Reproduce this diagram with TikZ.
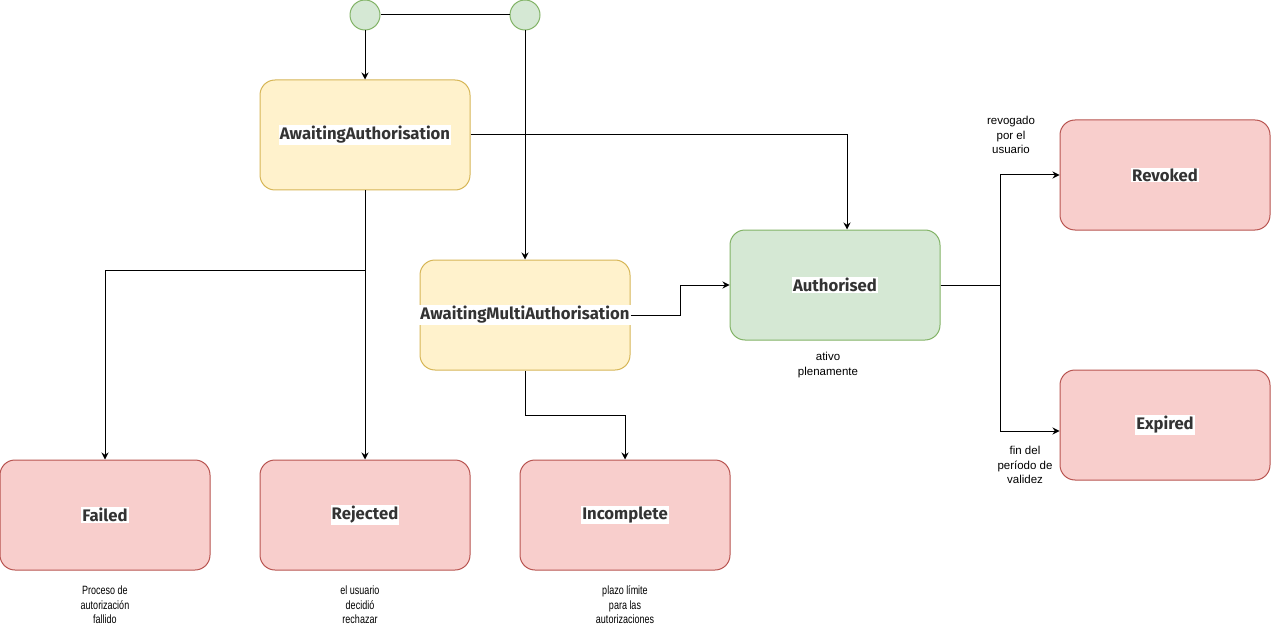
\documentclass[tikz,border=0pt]{standalone}
\usepackage{fontspec}
\setmainfont{Liberation Sans}
\newfontfamily\statefont{Fira Sans}
\newfontfamily\narrowfont[FakeStretch=0.75]{Liberation Sans}
\usetikzlibrary{arrows.meta}
\definecolor{yfill}{HTML}{FFF2CC}
\definecolor{yline}{HTML}{D6B656}
\definecolor{gfill}{HTML}{D5E8D4}
\definecolor{gline}{HTML}{82B366}
\definecolor{rfill}{HTML}{F8CECC}
\definecolor{rline}{HTML}{B85450}
\definecolor{tcol}{HTML}{333333}
\begin{document}
\begin{tikzpicture}[x=1pt, y=-1pt, line width=1pt,
  box/.style = {draw, rounded corners=15pt, minimum width=210pt, minimum height=110pt},
  wait/.style = {box, fill=yfill, draw=yline},
  ok/.style = {box, fill=gfill, draw=gline},
  bad/.style = {box, fill=rfill, draw=rline},
  start/.style = {circle, minimum size=30pt, inner sep=0pt, fill=gfill, draw=gline},
  tag/.style = {fill=white, inner sep=1pt, text=tcol, font=\statefont\bfseries\fontsize{16.7}{19}\selectfont},
  note/.style = {align=center, font=\fontsize{11.5}{14.5}\selectfont},
  low/.style = {align=center, font=\narrowfont\fontsize{12}{14.5}\selectfont},
  arr/.style = {-{Stealth[length=7pt,width=7pt]}}]
  \useasboundingbox (0,0) rectangle (1271,639);
  \node[start] (s1) at (365,15) {};
  \node[start] (s2) at (525,15) {};
  \node[wait] (aa) at (365,135) {};
  \node[wait] (ama) at (525,315) {};
  \node[ok] (aut) at (835,285) {};
  \node[bad] (rev) at (1165,175) {};
  \node[bad] (exp) at (1165,425) {};
  \node[bad] (fail) at (105,515) {};
  \node[bad] (rej) at (365,515) {};
  \node[bad] (inc) at (625,515) {};
  \node[tag] (aa-t) at (aa) {AwaitingAuthorisation};
  \node[tag] (ama-t) at (ama) {AwaitingMultiAuthorisation};
  \node[tag] (aut-t) at (aut) {Authorised};
  \node[tag] (rev-t) at (rev) {Revoked};
  \node[tag] (exp-t) at (exp) {Expired};
  \node[tag] (fail-t) at (fail) {Failed};
  \node[tag] (rej-t) at (rej) {Rejected};
  \node[tag] (inc-t) at (inc) {Incomplete};
  \node[note] (rev-n) at (1011,135) {revogado\\por el\\usuario};
  \node[note] (exp-n) at (1025,465) {fin del\\período de\\validez};
  \node[note] (aut-n) at (828,365) {ativo\\plenamente};
  \node[low] (fail-n) at (105,605) {Proceso de\\autorización\\fallido};
  \node[low] (rej-n) at (360,605) {el usuario\\decidió\\rechazar};
  \node[low] (inc-n) at (625,605) {plazo límite\\para las\\autorizaciones};
  \coordinate (split) at (365,270);
  \draw (s1) -- (s2);
  \draw[arr] (s1) -- (aa);
  \draw[arr] (s2) -- (ama);
  \draw[arr] (aa.east) -| ([xshift=12pt]aut.north);
  \draw[arr] (aa) -- (split) -| (fail);
  \draw[arr] (aa) -- (rej);
  \draw[arr] (ama.east) -- ++(50,0) |- (aut);
  \draw[arr] (ama.south) -- ++(0,45) -| (inc);
  \draw[arr] (aut.east) -- ++(60,0) |- (rev);
  \draw[arr] (aut.east) -- ++(60,0) |- ([yshift=-6pt]exp.west);
\end{tikzpicture}
\end{document}
